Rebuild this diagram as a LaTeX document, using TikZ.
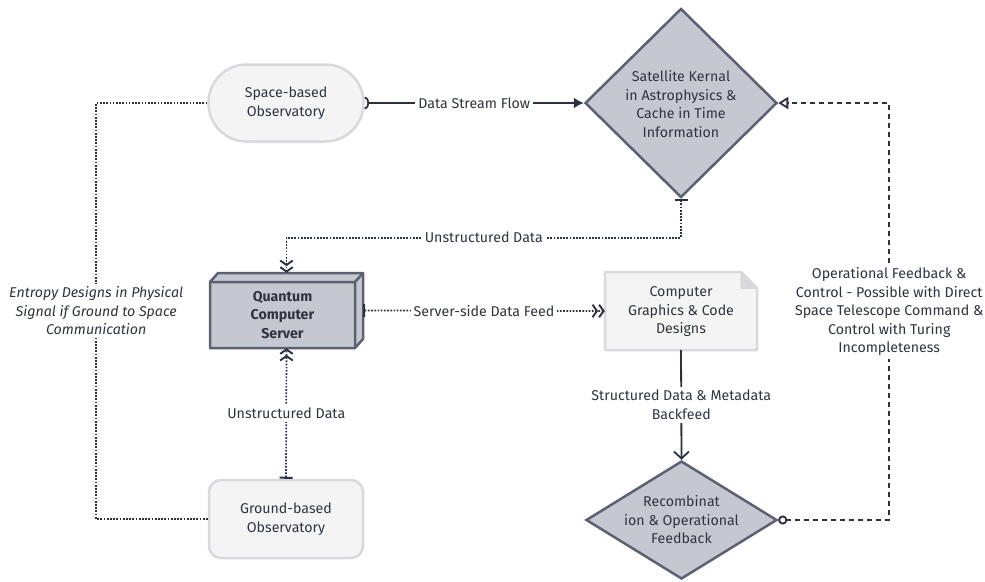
\documentclass[tikz,border=0pt]{standalone}
\usepackage{fontspec}
\setmainfont{Fira Sans}
\usetikzlibrary{arrows.meta,shapes.geometric,calc}
\definecolor{txt}{HTML}{2F343F}
\definecolor{edge}{HTML}{2B3141}
\definecolor{dfill}{HTML}{C5C8D0}
\definecolor{dline}{HTML}{5B6170}
\definecolor{lfill}{HTML}{F4F4F4}
\definecolor{lline}{HTML}{D8D8DD}
\newcommand{\myfont}{\fontsize{14.2}{18.5}\selectfont}
\tikzset{
  lightbox/.style={draw=lline, fill=lfill, line width=2.5pt, align=center, inner sep=0pt},
  diabox/.style={diamond, draw=dline, fill=dfill, line width=2.5pt, inner sep=0pt, aspect=1},
  lbl/.style={fill=white, inner sep=3pt, align=center, text=txt},
  solidedge/.style={draw=edge, line width=1.8pt},
  dotedge/.style={draw=edge, line width=1.7pt, dash pattern=on 1.7pt off 1.5pt},
  dashedge/.style={draw=edge, line width=1.6pt, dash pattern=on 5pt off 4pt},
  bartip/.tip={Bar[width=13pt,line width=2pt]},
  dchev/.tip={Straight Barb[length=4.5pt,width=12.5pt,line width=1.9pt] Straight Barb[length=4.5pt,width=12.5pt,line width=1.9pt]},
}
\begin{document}
\begin{tikzpicture}[x=1pt,y=-1pt,font=\myfont, text=txt]
\useasboundingbox (0,0) rectangle (985,581);
% nodes
\node[lightbox, rounded corners=38pt, minimum width=155pt, minimum height=77pt] (sbo) at (286,103) {Space-based\\Observatory};
\node[lightbox, rounded corners=12pt, minimum width=154pt, minimum height=78pt] (gbo) at (286,519) {Ground-based\\Observatory};
\node[diabox, minimum width=192pt, minimum height=189pt] (sat) at (681,103) {};
\node[align=center] (sattext) at (681,104) {Satellite Kernal\\in Astrophysics \&\\Cache in Time\\Information};
\node[diabox, minimum width=191pt, minimum height=118pt] (rec) at (681.5,520) {};
\node[align=center] (rectext) at (681.5,520) {Recombinat\\ion \& Operational\\Feedback};
% quantum 3D box
\draw[draw=dline, fill=dfill, line width=2.5pt, line join=round]
  (210,282) -- (218,273) -- (363,273) -- (363,339) -- (355,348) -- (210,348) -- cycle;
\draw[draw=dline, line width=2.5pt, line join=round] (210,282) -- (355,282) -- (355,348) (355,282) -- (363,273);
\node[minimum width=153pt, minimum height=75pt, inner sep=0pt] (qcs) at (286.5,310.5) {};
\node[align=center, font=\myfont\bfseries] (qcstext) at (282.5,315) {Quantum\\Computer\\Server};
% document
\draw[draw=lline, fill=lfill, line width=2.5pt, line join=round]
  (605,272) -- (741,272) -- (757,288) -- (757,350) -- (605,350) -- cycle;
\draw[draw=lline, fill=lline, line width=1.5pt, line join=round] (741,272) -- (741,288) -- (757,288) -- cycle;
\node[minimum width=152pt, minimum height=78pt, inner sep=0pt] (cg) at (681,311) {};
\node[align=center] (cgtext) at (681,312) {Computer\\Graphics \& Code\\Designs};
% connectors
\draw[solidedge, {Arc Barb[reversed,length=4.5pt,width=13pt,line width=1.8pt]}-{Latex[length=10pt,width=11pt]}]
  (sbo.east) -- node[lbl] {Data Stream Flow} (sat.west);
\draw[dotedge, {bartip[]}-{dchev[]}]
  (sat.south) -- ++(0,39) -| node[lbl,pos=0.25] {Unstructured Data} (qcs.north);
\draw[dotedge, {bartip[]}-{dchev[]}]
  (qcs.east) -- node[lbl] {Server-side Data Feed} (cg.west);
\draw[dotedge, {bartip[]}-{dchev[]}]
  (gbo.north) -- node[lbl] {Unstructured Data} (qcs.south);
\draw[solidedge, -{Straight Barb[length=7pt,width=15pt,line width=1.8pt]}]
  (cg.south) -- node[lbl] {Structured Data \& Metadata\\Backfeed} (rec.north);
\draw[dashedge, {Circle[open,length=9pt,width=9pt,line width=1.8pt,fill=white]}-{Triangle[open,length=10pt,width=12pt,line width=1.8pt,fill=white]}]
  (rec.east) -- ++(111,0) |- node[lbl,pos=0.25] {Operational Feedback \&\\Control - Possible with Direct\\Space Telescope Command \&\\Control with Turing\\Incompleteness} (sat.east);
\draw[dotedge]
  (sbo.west) -- ++(-111,0) |- node[lbl,pos=0.25,font=\myfont\itshape] {Entropy Designs in Physical\\Signal if Ground to Space\\Communication} (gbo.west);
\end{tikzpicture}
\end{document}
